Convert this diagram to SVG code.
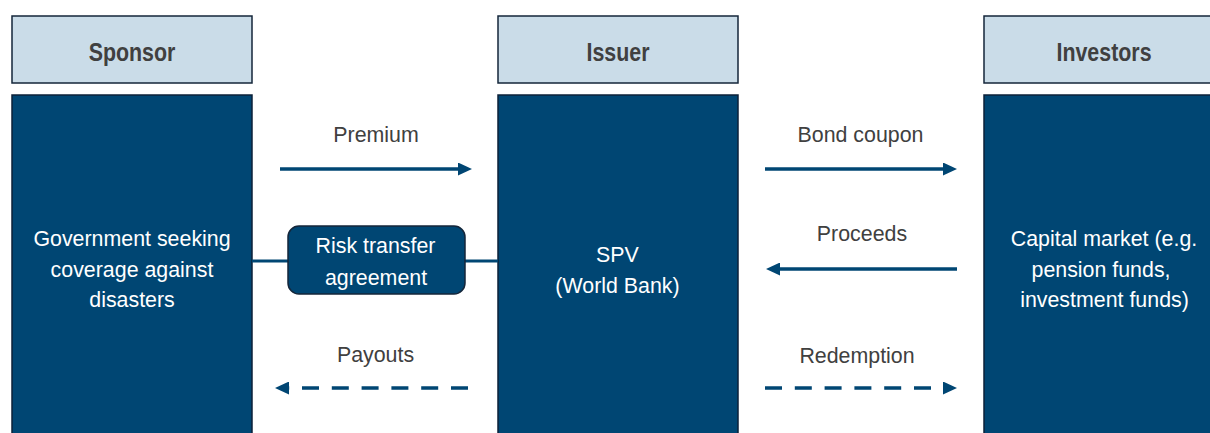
<svg xmlns="http://www.w3.org/2000/svg" width="1210" height="433" viewBox="0 0 1210 433">
  <style>
    .head { fill: #cadce8; stroke: #14263a; stroke-width: 1.5; }
    .body { fill: #004673; stroke: #0b2138; stroke-width: 1.5; }
    .htxt { font-family: "Liberation Sans", Arial, sans-serif; font-weight: bold; font-size: 26px; fill: #404040; text-anchor: middle; }
    .wtxt { font-family: "Liberation Sans", Arial, sans-serif; font-size: 23px; fill: #ffffff; text-anchor: middle; }
    .ltxt { font-family: "Liberation Sans", Arial, sans-serif; font-size: 23px; fill: #404040; text-anchor: middle; }
    .flow { stroke: #004673; stroke-width: 3.5; fill: none; }
    .dash { stroke-dasharray: 17 12.8; }
    .link { stroke: #004673; stroke-width: 3; fill: none; }
  </style>
  <defs>
    <marker id="arrow" markerUnits="userSpaceOnUse" markerWidth="15" markerHeight="13" refX="0" refY="6.5" orient="auto">
      <path d="M0,0 L14,6.5 L0,13 Z" fill="#004673"/>
    </marker>
  </defs>

  <rect width="1210" height="433" fill="#ffffff"/>

  <!-- Sponsor column -->
  <g id="sponsor">
    <rect class="head" x="12" y="16" width="240" height="67"/>
    <text class="htxt" transform="translate(132 0) scale(0.823 1)" x="0" y="61">Sponsor</text>
    <rect class="body" x="12" y="95" width="240" height="360"/>
    <text class="wtxt" transform="translate(132 0) scale(0.93 1)" x="0" y="246">Government seeking</text>
    <text class="wtxt" transform="translate(132 0) scale(0.93 1)" x="0" y="277">coverage against</text>
    <text class="wtxt" transform="translate(132 0) scale(0.93 1)" x="0" y="307">disasters</text>
  </g>

  <!-- Issuer column -->
  <g id="issuer">
    <rect class="head" x="498" y="16" width="240" height="67"/>
    <text class="htxt" transform="translate(618 0) scale(0.823 1)" x="0" y="61">Issuer</text>
    <rect class="body" x="498" y="95" width="240" height="360"/>
    <text class="wtxt" transform="translate(617.5 0) scale(0.93 1)" x="0" y="262">SPV</text>
    <text class="wtxt" transform="translate(617.5 0) scale(0.93 1)" x="0" y="293">(World Bank)</text>
  </g>

  <!-- Investors column -->
  <g id="investors">
    <rect class="head" x="984" y="16" width="240" height="67"/>
    <text class="htxt" transform="translate(1104 0) scale(0.823 1)" x="0" y="61">Investors</text>
    <rect class="body" x="984" y="95" width="240" height="360"/>
    <text class="wtxt" transform="translate(1104 0) scale(0.93 1)" x="0" y="246">Capital market (e.g.</text>
    <text class="wtxt" transform="translate(1101 0) scale(0.93 1)" x="0" y="277">pension funds,</text>
    <text class="wtxt" transform="translate(1104.5 0) scale(0.93 1)" x="0" y="307">investment funds)</text>
  </g>

  <!-- Flows between columns -->
  <g id="connectors">
    <line class="link" x1="252" y1="261" x2="498" y2="261"/>

    <line class="flow" x1="280" y1="169" x2="458" y2="169" marker-end="url(#arrow)"/>
    <text class="ltxt" transform="translate(376 0) scale(0.93 1)" x="0" y="142">Premium</text>

    <line class="flow dash" x1="468" y1="388" x2="289" y2="388" marker-end="url(#arrow)"/>
    <text class="ltxt" transform="translate(375.5 0) scale(0.93 1)" x="0" y="362">Payouts</text>

    <line class="flow" x1="765" y1="169" x2="943" y2="169" marker-end="url(#arrow)"/>
    <text class="ltxt" transform="translate(860.5 0) scale(0.93 1)" x="0" y="142">Bond coupon</text>

    <line class="flow" x1="957" y1="269" x2="780" y2="269" marker-end="url(#arrow)"/>
    <text class="ltxt" transform="translate(862 0) scale(0.93 1)" x="0" y="241">Proceeds</text>

    <line class="flow dash" x1="765" y1="388" x2="943" y2="388" marker-end="url(#arrow)"/>
    <text class="ltxt" transform="translate(857 0) scale(0.93 1)" x="0" y="363">Redemption</text>
  </g>

  <!-- Agreement sitting on the sponsor-issuer link -->
  <g id="risk-transfer">
    <rect x="288" y="226" width="177" height="68" rx="11" ry="11" fill="#004673" stroke="#14263a" stroke-width="1.5"/>
    <text class="wtxt" transform="translate(375.5 0) scale(0.93 1)" x="0" y="253">Risk transfer</text>
    <text class="wtxt" transform="translate(376 0) scale(0.93 1)" x="0" y="285">agreement</text>
  </g>
</svg>
